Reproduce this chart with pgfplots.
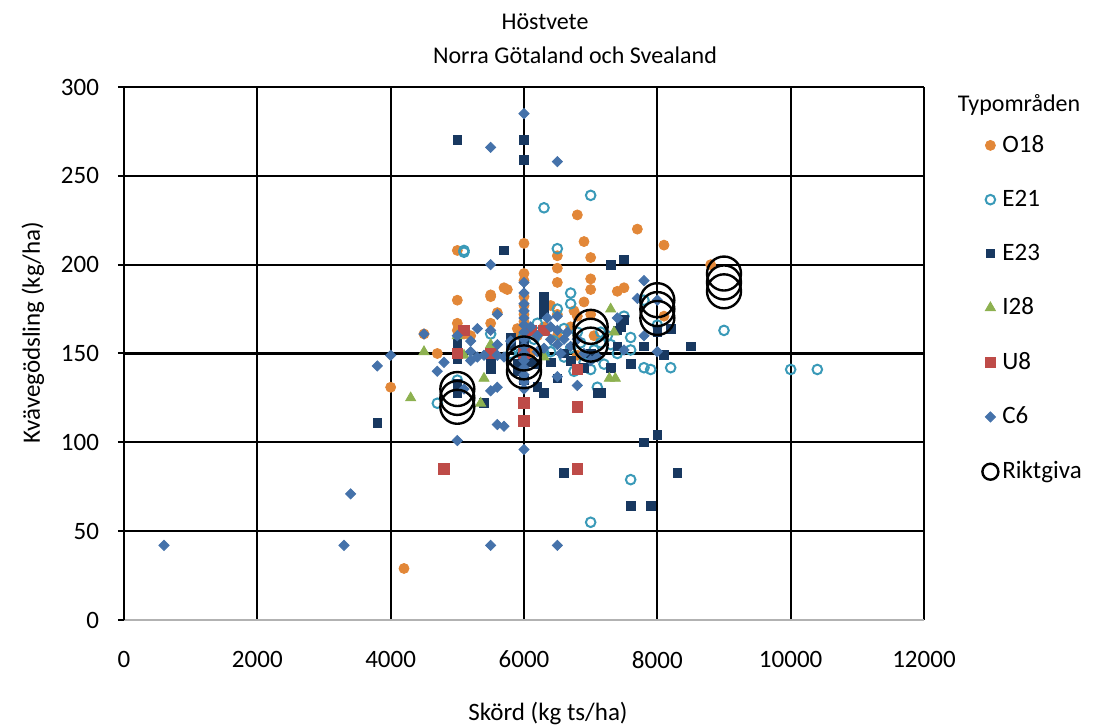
\documentclass[border=0pt]{standalone}
\usepackage{fontspec}
\setmainfont{Carlito}
\usepackage{pgfplots}
\pgfplotsset{compat=1.18}

\definecolor{cO}{RGB}{226,135,56}
\definecolor{cEa}{RGB}{58,154,184}
\definecolor{cEb}{RGB}{24,56,96}
\definecolor{cI}{RGB}{141,177,80}
\definecolor{cU}{RGB}{190,75,72}
\definecolor{cC}{RGB}{69,114,170}

\begin{document}
\begin{tikzpicture}
\begin{axis}[
  scale only axis, width=400pt, height=266.5pt,
  xmin=0, xmax=12000, ymin=0, ymax=300,
  xtick={0,2000,...,12000}, ytick={0,50,...,300},
  grid=major, grid style={black, line width=1.1pt},
  axis x line*=bottom, axis y line*=left,
  x axis line style={draw=gray!60, line width=1pt, -},
  y axis line style={black, line width=1.2pt, -},
  tick align=outside, major tick length=3pt,
  xtick style={draw=none}, ytick style={black, line width=1pt},
  scaled ticks=false,
  /pgf/number format/set thousands separator={},
  /pgf/number format/assume math mode=true,
  tick label style={font=\fontsize{12.5}{14}\selectfont},
  xticklabel style={yshift=-9pt},
  yticklabel style={xshift=-6pt},
  legend style={draw=none, fill=none, at={(1.065,0.925)}, anchor=north west,
    font=\fontsize{12.5}{14}\selectfont, row sep=13.3pt},
  legend cell align=left,
  legend image code/.code={\draw[#1] plot coordinates {(0.18cm,0cm)};},
]
% O18
\addplot[only marks, mark=*, mark size=2.5pt, color=cO] coordinates {
(4200,29) (4000,131) (4500,161) (4700,150) (5000,208) (5000,180) (5000,167)
(5000,163) (5100,161) (5200,160) (5500,183) (5500,182) (5500,167) (5600,173)
(5700,187) (5750,186) (5900,164) (5950,160) (6000,212) (6000,195) (6000,191)
(6000,182) (6000,177) (6000,172) (6000,168) (6000,163) (6000,159) (6200,160)
(6300,165) (6400,177) (6500,205) (6500,198) (6500,190) (6500,172) (6500,160)
(6700,165) (6800,228) (6800,171) (6750,174) (6800,149) (6900,213) (6900,179)
(7000,204) (7000,192) (7000,186) (7000,172) (7050,160) (7400,185) (7500,187)
(7700,220) (8100,211) (8100,171) (8800,200) (6100,150)
};
\addlegendentry{O18}
% E21
\addplot[only marks, mark=o, mark size=2.4pt, color=cEa, mark options={line width=1pt}] coordinates {
(4700,122) (5000,135) (5100,208) (5100,207) (5500,161) (5800,150) (6000,160)
(6200,167) (6300,232) (6300,150) (6400,151) (6500,175) (6500,209) (6600,164)
(6700,184) (6700,178) (6800,162) (6700,153) (7000,239) (7000,147) (7000,141)
(7000,55) (7100,131) (7150,162) (7150,156) (7200,144) (7300,155) (7400,150)
(7500,171) (7600,159) (7600,152) (7600,79) (7800,180) (7800,142) (7900,141)
(8200,142) (8000,166) (9000,163) (10000,141) (10400,141) (6150,158) (5950,150)
(6600,148) (6850,156) (6900,145) (7050,152) (7250,160) (6450,157) (6750,140)
};
\addlegendentry{E21}
% E23
\addplot[only marks, mark=square*, mark size=2.2pt, color=cEb] coordinates {
(3800,111) (5000,270) (6000,270) (6000,259) (5700,208) (7500,203) (7300,200)
(6600,83) (7800,100) (8000,104) (8300,83) (7600,64) (7900,64) (5400,122)
(8500,154) (8100,149) (8200,164) (8000,162) (7800,154) (7600,144) (7300,142)
(7400,154) (7450,165) (7150,128) (6300,182) (6300,176) (6300,172) (5800,159)
(5800,155) (5500,146) (5500,141) (5000,158) (5000,153) (5000,147) (5000,133)
(5000,128) (6200,131) (6300,128) (6200,144) (6400,145) (6500,136) (6900,142)
(7100,128) (5900,144) (5900,140) (6000,155) (6000,146) (6000,135) (7500,169)
(7400,163) (6600,150) (6100,145) (7000,150) (6700,146)
};
\addlegendentry{E23}
% I28
\addplot[only marks, mark=triangle*, mark size=2.9pt, color=cI] coordinates {
(4300,125) (4500,151) (5100,149) (5350,122) (5400,136) (5500,155) (6300,148)
(7300,175) (7350,162) (7280,136) (7370,136) (5000,160)
};
\addlegendentry{I28}
% U8
\addplot[only marks, mark=square*, mark size=2.7pt, color=cU] coordinates {
(4800,85) (5000,150) (5100,163) (5500,150) (6000,150) (6000,122) (6000,112)
(6100,163) (6300,163) (6800,141) (6800,120) (6800,85)
};
\addlegendentry{U8}
% C6
\addplot[only marks, mark=square*, mark size=1.8pt, color=cC, mark options={rotate=45}] coordinates {
(600,42) (3300,42) (3400,71) (3800,143) (4000,149) (4500,161) (4700,140)
(5000,101) (5000,160) (5200,157) (5200,151) (5200,146) (5300,164) (5400,149)
(5500,42) (5500,129) (5500,163) (5500,200) (5500,266) (5600,110) (5600,131)
(5600,149) (5600,155) (5600,172) (5700,109) (5800,157) (6000,285) (6000,96)
(6000,190) (6000,184) (6000,178) (6000,174) (6000,170) (6000,166) (6000,162)
(6000,158) (6000,154) (6000,150) (6000,146) (6000,142) (6000,138) (6000,134)
(6000,130) (6200,151) (6300,153) (6500,42) (6500,258) (6500,171) (6500,163)
(6500,137) (6500,155) (6600,158) (6700,154) (6800,132) (6900,150) (7000,146)
(7400,170) (7500,152) (7700,181) (7800,191) (7800,160) (8000,151) (8000,180)
(6100,165) (6200,160) (6400,165) (6350,170) (4800,145) (5100,130) (5300,148)
(5700,148) (6550,150) (6650,162) (6800,158) (7100,148) (6400,158)
};
\addlegendentry{C6}
% Riktgiva
\addplot[only marks, mark=o, mark size=8.5pt, color=black, mark options={line width=1.2pt},
  legend image post style={mark size=4pt}] coordinates {
(5000,120) (5000,125) (5000,130) (6000,140) (6000,145) (6000,150)
(7000,155) (7000,160) (7000,165) (8000,170) (8000,175) (8000,180)
(9000,185) (9000,190) (9000,195)
};
\addlegendentry{Riktgiva}
\end{axis}
\node[font=\fontsize{12}{14}\selectfont] at (210.5pt,299pt) {Höstvete};
\node[font=\fontsize{12}{14}\selectfont] at (225.5pt,282.5pt) {Norra Götaland och Svealand};
\node[font=\fontsize{12.5}{14}\selectfont] at (212pt,-47pt) {Skörd (kg ts/ha)};
\node[font=\fontsize{12.5}{14}\selectfont, rotate=90] at (-45.5pt,143.75pt) {Kvävegödsling (kg/ha)};
\node[font=\fontsize{12}{14}\selectfont] at (447.5pt,257.5pt) {Typområden};
\pgfresetboundingbox
\path (-62pt,-53pt) rectangle (487.5pt,310pt);
\end{tikzpicture}
\end{document}
